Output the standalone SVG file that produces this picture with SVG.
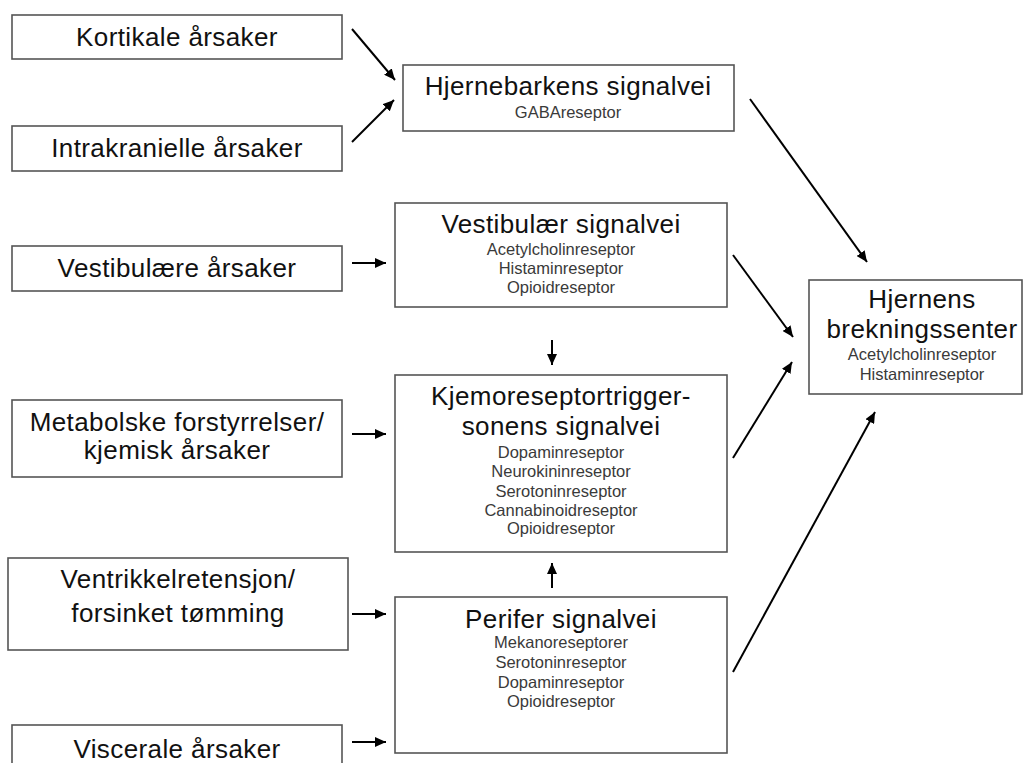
<svg xmlns="http://www.w3.org/2000/svg" width="1024" height="763" viewBox="0 0 1024 763">
  <defs>
    <marker id="head" markerUnits="userSpaceOnUse" markerWidth="12" markerHeight="10" refX="11" refY="5" orient="auto">
      <path d="M0,0 L11,5 L0,10 Z" fill="#000"/>
    </marker>
  </defs>
  <style>
    .box { fill: #fff; stroke: #555; stroke-width: 1.6; }
    .big { font-family: "Liberation Sans", Arial, sans-serif; font-size: 26px; fill: #111; text-anchor: middle; letter-spacing: 0.4px; }
    .small { font-family: "Liberation Sans", Arial, sans-serif; font-size: 16.5px; fill: #3a3a3a; text-anchor: middle; }
    .link { stroke: #000; stroke-width: 2; fill: none; marker-end: url(#head); }
  </style>
  <rect width="1024" height="763" fill="#fff"/>

  <!-- causes -->
  <g id="kortikale">
    <rect class="box" x="12" y="15" width="330" height="44"/>
    <text class="big" x="177" y="46">Kortikale årsaker</text>
  </g>
  <g id="intrakranielle">
    <rect class="box" x="12" y="126" width="330" height="45"/>
    <text class="big" x="177" y="157">Intrakranielle årsaker</text>
  </g>
  <g id="vestibulaere">
    <rect class="box" x="12" y="246" width="330" height="45"/>
    <text class="big" x="177" y="277">Vestibulære årsaker</text>
  </g>
  <g id="metabolske">
    <rect class="box" x="12" y="400" width="330" height="77"/>
    <text class="big" x="177" y="431">Metabolske forstyrrelser/</text>
    <text class="big" x="177" y="459">kjemisk årsaker</text>
  </g>
  <g id="ventrikkel">
    <rect class="box" x="8" y="558" width="340" height="92"/>
    <text class="big" x="178" y="588">Ventrikkelretensjon/</text>
    <text class="big" x="178" y="622">forsinket tømming</text>
  </g>
  <g id="viscerale">
    <rect class="box" x="12" y="725" width="330" height="50"/>
    <text class="big" x="177" y="758">Viscerale årsaker</text>
  </g>

  <!-- pathways -->
  <g id="hjernebarken">
    <rect class="box" x="403" y="65" width="331" height="66"/>
    <text class="big" x="568" y="95">Hjernebarkens signalvei</text>
    <text class="small" x="568" y="118">GABAreseptor</text>
  </g>
  <g id="vestibulaer">
    <rect class="box" x="395" y="203" width="332" height="104"/>
    <text class="big" x="561" y="233">Vestibulær signalvei</text>
    <text class="small" x="561" y="255">Acetylcholinreseptor</text>
    <text class="small" x="561" y="274">Histaminreseptor</text>
    <text class="small" x="561" y="293">Opioidreseptor</text>
  </g>
  <g id="kjemoreseptor">
    <rect class="box" x="395" y="375" width="332" height="177"/>
    <text class="big" x="561" y="405">Kjemoreseptortrigger-</text>
    <text class="big" x="561" y="435">sonens signalvei</text>
    <text class="small" x="561" y="458">Dopaminreseptor</text>
    <text class="small" x="561" y="477">Neurokininreseptor</text>
    <text class="small" x="561" y="497">Serotoninreseptor</text>
    <text class="small" x="561" y="516">Cannabinoidreseptor</text>
    <text class="small" x="561" y="534">Opioidreseptor</text>
  </g>
  <g id="perifer">
    <rect class="box" x="395" y="597" width="332" height="156"/>
    <text class="big" x="561" y="628">Perifer signalvei</text>
    <text class="small" x="561" y="648">Mekanoreseptorer</text>
    <text class="small" x="561" y="668">Serotoninreseptor</text>
    <text class="small" x="561" y="688">Dopaminreseptor</text>
    <text class="small" x="561" y="707">Opioidreseptor</text>
  </g>

  <!-- vomiting centre -->
  <g id="brekningssenter">
    <rect class="box" x="809" y="280" width="213" height="114"/>
    <text class="big" x="922" y="308">Hjernens</text>
    <text class="big" x="922" y="338">brekningssenter</text>
    <text class="small" x="922" y="360">Acetylcholinreseptor</text>
    <text class="small" x="922" y="380">Histaminreseptor</text>
  </g>

  <!-- connectors -->
  <g id="connectors">
    <line class="link" x1="352" y1="29" x2="395" y2="80"/>
    <line class="link" x1="352" y1="142" x2="394" y2="100"/>
    <line class="link" x1="352" y1="263" x2="386" y2="263"/>
    <line class="link" x1="352" y1="434" x2="386" y2="434"/>
    <line class="link" x1="352" y1="614" x2="386" y2="614"/>
    <line class="link" x1="352" y1="742" x2="386" y2="742"/>
    <line class="link" x1="552" y1="340" x2="552" y2="365"/>
    <line class="link" x1="552" y1="588" x2="552" y2="563"/>
    <line class="link" x1="750" y1="99" x2="867" y2="262"/>
    <line class="link" x1="733" y1="255" x2="793" y2="337"/>
    <line class="link" x1="733" y1="458" x2="792" y2="362"/>
    <line class="link" x1="733" y1="672" x2="875" y2="412"/>
  </g>
</svg>
